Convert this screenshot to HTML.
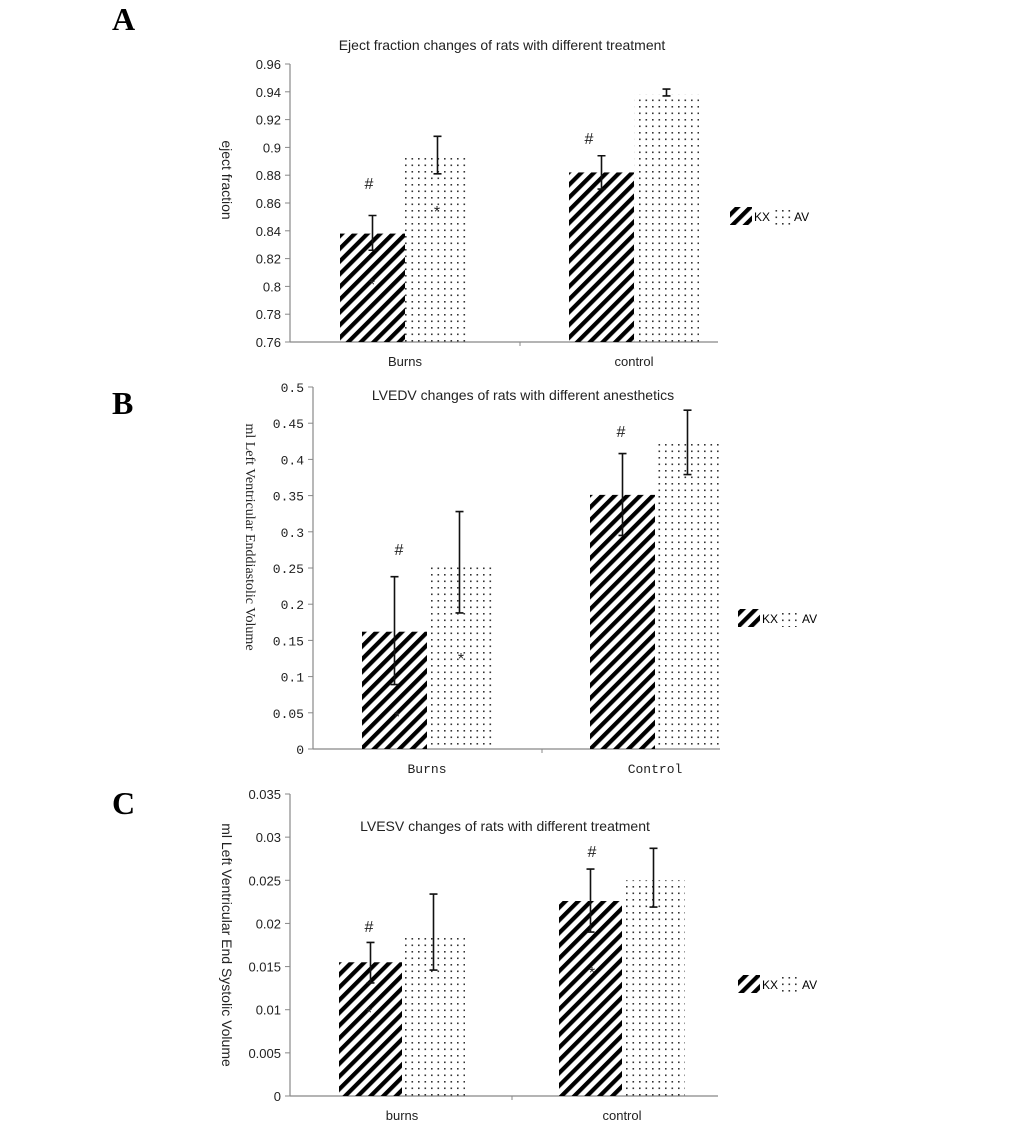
<!DOCTYPE html>
<html><head><meta charset="utf-8"><style>
body{margin:0;background:#fff;width:1033px;height:1131px;overflow:hidden}
svg{position:absolute;left:0;top:0}
</style></head><body>
<svg id="fig" width="1033" height="1131" xmlns="http://www.w3.org/2000/svg">
<defs>
<pattern id="hatch" patternUnits="userSpaceOnUse" width="9" height="9" patternTransform="rotate(45)">
<rect x="0" y="0" width="4.2" height="9" fill="#000"/></pattern>
<pattern id="dots" patternUnits="userSpaceOnUse" width="6.5" height="6.5">
<rect x="2" y="2" width="1.6" height="1.6" fill="#333"/></pattern>
</defs>
</svg>
<script>
// Panel A data
const catsA=["Burns","control"];
const kxA=[0.838,0.882], avA=[0.894,0.938];
const kxErrHiA=[0.851,0.894], kxErrLoA=[0.826,0.870];
const avErrHiA=[0.908,0.942], avErrLoA=[0.881,0.937];
const ticksA=["0.76","0.78","0.8","0.82","0.84","0.86","0.88","0.9","0.92","0.94","0.96"];
// Panel B data
const catsB=["Burns","Control"];
const kxB=[0.162,0.351], avB=[0.257,0.422];
const kxErrHiB=[0.238,0.408], kxErrLoB=[0.089,0.295];
const avErrHiB=[0.328,0.468], avErrLoB=[0.188,0.379];
const ticksB=["0","0.05","0.1","0.15","0.2","0.25","0.3","0.35","0.4","0.45","0.5"];
// Panel C data
const catsC=["burns","control"];
const kxC=[0.0155,0.0226], avC=[0.0188,0.0250];
const kxErrHiC=[0.0178,0.0263], kxErrLoC=[0.0131,0.0190];
const avErrHiC=[0.0234,0.0287], avErrLoC=[0.0146,0.0219];
const ticksC=["0","0.005","0.01","0.015","0.02","0.025","0.03","0.035"];

const svg=document.getElementById('fig');
const NS="http://www.w3.org/2000/svg";
function mk(tag,attrs,parent){const e=document.createElementNS(NS,tag);for(const k in attrs)e.setAttribute(k,attrs[k]);(parent||svg).appendChild(e);return e;}
function txt(s,attrs,parent){const e=mk('text',attrs,parent);e.textContent=s;return e;}

function panel(o){
  const g=mk('g',{});
  
  
  const tmin=parseFloat(o.ticks[0]), tmax=parseFloat(o.ticks[o.ticks.length-1]);
  const y=v=>o.y0+(v-tmin)/(tmax-tmin)*(o.y1-o.y0);
  const L=txt(o.letter,{x:112,y:o.letterY,'font-family':'Liberation Serif, serif','font-size':32,'font-weight':'bold'},g);
  
  
  const ax=mk('line',{x1:o.ax,y1:o.y1,x2:o.ax,y2:o.y0,stroke:'#888','stroke-width':1.2},g);
  
  
  const xa=mk('line',{x1:o.ax,y1:o.y0,x2:o.axEnd,y2:o.y0,stroke:'#888','stroke-width':1.2},g);
  
  
  mk('line',{x1:o.mid,y1:o.y0,x2:o.mid,y2:o.y0+4,stroke:'#888'},g);
  o.ticks.forEach(t=>{
    const yy=y(parseFloat(t));
    mk('line',{x1:o.ax-5,y1:yy,x2:o.ax,y2:yy,stroke:'#888'},g);
    const tl=txt(t,{x:o.ax-9,y:yy+5,'text-anchor':'end','font-family':o.tickFont,'font-size':o.tickSize,fill:'#222'},g);
    
    
  });
  const series=[[o.kx,o.kxHi,o.kxLo,'url(#hatch)',0],[o.av,o.avHi,o.avLo,'url(#dots)',1]];
  o.cats.forEach((c,i)=>{
    series.forEach(s=>{
      const x0=o.barX[i]+s[4]*o.bw;
      const b=mk('rect',{x:x0,y:y(s[0][i]),width:o.bw,height:o.y0-y(s[0][i]),fill:s[3]},g);
      
      
      const cx=x0+o.bw/2;
      const yh=y(s[1][i]), yl=y(s[2][i]);
      const eb=mk('path',{d:`M${cx},${yh}V${yl}M${cx-4},${yh}H${cx+4}M${cx-4},${yl}H${cx+4}`,stroke:'#111','stroke-width':1.6,fill:'none'},g);
      
      
    });
    const cl=txt(c,{x:o.barX[i]+o.bw,y:o.y0+o.catDy,'text-anchor':'middle','font-family':o.catFont,'font-size':13,fill:'#222'},g);
    
    
  });
  o.marks.forEach(m=>{
    const mm=txt(m[0],{x:m[1],y:m[2],'text-anchor':'middle','font-family':'Liberation Sans, sans-serif','font-size':16,fill:'#222'},g);
    
    
  });
  const tt=txt(o.title,{x:o.titleX,y:o.titleY,'text-anchor':'middle','font-family':'Liberation Sans, sans-serif','font-size':14,fill:'#222'},g);
  
  
  const yt=txt(o.ytitle,{x:0,y:0,'text-anchor':'middle','font-family':o.yFont,'font-size':14,fill:'#222',transform:`translate(${o.ytX},${o.ytY}) rotate(90)`},g);
  
  
  const lg=mk('g',{},g);
  
  
  mk('rect',{x:o.lgX,y:o.lgY-9,width:22,height:18,fill:'url(#hatch)'},lg);
  txt('KX',{x:o.lgX+24,y:o.lgY+5,'font-family':'Liberation Sans, sans-serif','font-size':12},lg);
  mk('rect',{x:o.lgX+44,y:o.lgY-9,width:18,height:18,fill:'url(#dots)'},lg);
  txt('AV',{x:o.lgX+64,y:o.lgY+5,'font-family':'Liberation Sans, sans-serif','font-size':12},lg);
}
panel({name:'panel-a',letter:'A',letterY:30,cats:catsA,kx:kxA,av:avA,kxHi:kxErrHiA,kxLo:kxErrLoA,avHi:avErrHiA,avLo:avErrLoA,ticks:ticksA,
  ax:290,axEnd:718,y0:342,y1:64,mid:520,barX:[340,569],bw:65,tickFont:'Liberation Sans, sans-serif',tickSize:13,catFont:'Liberation Sans, sans-serif',catDy:24,
  marks:[['#',369,189],['*',372,290],['*',437,217],['#',589,144]],title:'Eject fraction changes of rats with different treatment',titleX:502,titleY:50,
  ytitle:'eject fraction',yFont:'Liberation Sans, sans-serif',ytX:222,ytY:180,lgX:730,lgY:216});
panel({name:'panel-b',letter:'B',letterY:414,cats:catsB,kx:kxB,av:avB,kxHi:kxErrHiB,kxLo:kxErrLoB,avHi:avErrHiB,avLo:avErrLoB,ticks:ticksB,
  ax:313,axEnd:720,y0:749,y1:387,mid:542,barX:[362,590],bw:65,tickFont:'Liberation Mono, monospace',tickSize:13,catFont:'Liberation Mono, monospace',catDy:24,
  marks:[['#',399,555],['*',397,722],['*',461,664],['#',621,437]],title:'LVEDV changes of rats with different anesthetics',titleX:523,titleY:400,
  ytitle:'ml  Left Ventricular Enddiastolic Volume',yFont:'Liberation Serif, serif',ytX:246,ytY:537,lgX:738,lgY:618});
panel({name:'panel-c',letter:'C',letterY:814,cats:catsC,kx:kxC,av:avC,kxHi:kxErrHiC,kxLo:kxErrLoC,avHi:avErrHiC,avLo:avErrLoC,ticks:ticksC,
  ax:290,axEnd:718,y0:1096,y1:794,mid:512,barX:[339,559],bw:63,tickFont:'Liberation Sans, sans-serif',tickSize:13,catFont:'Liberation Sans, sans-serif',catDy:24,
  marks:[['#',369,932],['*',369,1018],['*',592,978],['#',592,857]],title:'LVESV changes of rats  with different treatment',titleX:505,titleY:831,
  ytitle:'ml   Left Ventricular End Systolic Volume',yFont:'Liberation Sans, sans-serif',ytX:222,ytY:945,lgX:738,lgY:984});
</script>
</body></html>
